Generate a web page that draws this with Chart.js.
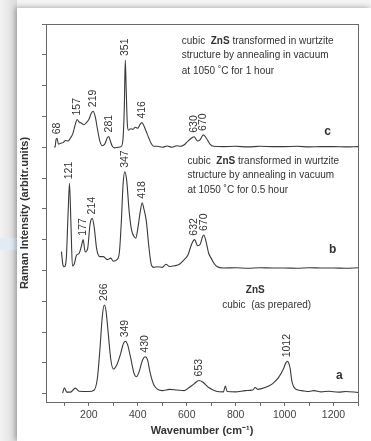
<!DOCTYPE html>
<html><head><meta charset="utf-8">
<script src="https://cdn.jsdelivr.net/npm/chart.js@4"></script>
<style>
html,body{margin:0;padding:0;width:371px;height:441px;overflow:hidden;background:#f4f4f4;}
#strip{position:absolute;left:0;top:0;width:17px;height:441px;background:linear-gradient(to right,#f3f3f3,#dadada);}
#band{position:absolute;left:0;top:238px;width:17px;height:12px;background:#e2eaf3;}
#panel{position:absolute;left:17px;top:8px;right:0;bottom:0;background:#fff;box-shadow:-2px -1px 5px rgba(0,0,0,0.28);}
#wrap{position:absolute;left:0;top:0;width:371px;height:441px;}
</style></head>
<body>
<div id="strip"></div><div id="band"></div><div id="panel"></div>
<div id="wrap"><canvas id="c" width="371" height="441"></canvas></div>
<script>
// Wavenumbers (cm-1) and intensities (arbitrary units, stacked offsets as in the figure)
const xA = [93,100,110,125,145,160,200,220,235,245,255,263,270,280,290,300,315,330,340,349,358,370,385,395,405,420,430,440,450,465,480,500,530,560,590,610,630,650,665,690,720,750,758,765,800,840,870,880,890,920,950,975,995,1005,1012,1022,1030,1045,1070,1100,1120,1150,1180,1220,1250,1300];
const yA = [0.02,0.19,0.05,0.05,0.18,0.08,0.07,0.1,0.5,1.4,2.5,2.88,2.7,1.9,1.1,0.8,0.95,1.3,1.6,1.7,1.6,1.2,0.65,0.55,0.7,1.1,1.2,1.1,0.7,0.3,0.15,0.1,0.14,0.12,0.1,0.2,0.32,0.43,0.38,0.2,0.08,0.06,0.25,0.07,0.06,0.1,0.12,0.2,0.14,0.2,0.32,0.52,0.8,1.0,1.05,0.85,0.4,0.15,0.1,0.07,0.1,0.06,0.08,0.05,0.07,0.04];

const xB = [88,95,100,108,115,121,127,133,140,150,160,170,177,185,195,205,214,222,232,245,260,275,290,300,315,325,333,340,347,355,365,375,385,392,400,410,418,425,435,445,455,465,480,500,515,530,550,570,590,605,620,632,645,655,665,670,680,690,700,710,725,750,800,850,900,950,1000,1050,1100,1150,1200,1250,1300];
const yB = [4.61,4.15,4.12,4.4,5.8,6.83,5.5,4.15,4.2,4.5,4.55,4.8,5.0,4.6,4.7,5.5,5.69,5.4,4.7,4.45,4.45,4.35,4.4,4.3,4.35,4.6,5.6,6.8,7.2,6.9,5.9,5.3,5.1,5.05,5.35,5.9,6.2,6.0,5.6,4.8,4.2,4.1,4.12,4.1,4.2,4.13,4.15,4.2,4.35,4.5,4.85,5.0,4.8,4.85,5.1,5.15,4.9,4.55,4.4,4.25,4.12,4.08,4.09,4.07,4.09,4.08,4.08,4.07,4.09,4.08,4.08,4.07,4.09];

const xC = [58,62,66,70,76,85,95,105,115,125,135,145,152,160,170,180,190,200,210,218,226,235,245,255,265,275,281,288,295,305,320,332,340,345,349,353,357,362,370,380,390,400,410,417,425,435,445,455,465,480,500,520,540,560,575,590,605,620,630,645,655,668,680,695,710,750,800,850,900,950,1000,1050,1100,1150,1200,1250,1300];
const yC = [8.02,8.0,8.25,8.29,8.1,8.13,8.15,8.22,8.2,8.3,8.45,8.75,8.9,8.82,8.78,8.73,8.8,8.9,9.1,9.17,9.0,8.6,8.2,8.05,8.1,8.3,8.35,8.2,8.05,7.98,8.0,8.02,8.3,9.3,10.83,9.8,8.8,8.55,8.6,8.58,8.65,8.62,8.75,8.8,8.7,8.5,8.3,8.12,8.03,8.03,8.0,8.04,8.0,8.05,8.03,8.08,8.2,8.3,8.34,8.2,8.25,8.4,8.3,8.1,8.03,8.02,8.03,8.01,8.03,8.02,8.02,8.03,8.01,8.02,8.02,8.01,8.02];

// Peak labels: wavenumber where each label sits, and its text
const peaksA = [263, 349, 430, 652, 1012];
const peakTextA = ['266','349','430','653','1012'];
const peaksB = [121, 177, 214, 347, 418, 632, 670];
const peakTextB = ['121','177','214','347','418','632','670'];
const peaksC = [69, 152, 218, 281, 349, 417, 630, 668];
const peakTextC = ['68','157','219','281','351','416','630','670'];

const xTickLabels = [200, 400, 600, 800, 1000, 1200];

const toPts = (xs, ys) => xs.map((x, i) => ({x, y: ys[i]}));
const lineColor = '#3a3a3a';
const ds = (xs, ys) => ({data: toPts(xs, ys), borderColor: lineColor, borderWidth: 1.1, pointRadius: 0, tension: 0.35, cubicInterpolationMode: 'monotone', fill: false});

const FONT = '"Liberation Sans", Arial, sans-serif';
const TXT = '#333';

function maxNear(xs, ys, w) {
  let m = -Infinity;
  xs.forEach((x, i) => { if (Math.abs(x - w) <= 6) m = Math.max(m, ys[i]); });
  return m;
}

const annot = {
  id: 'annot',
  afterDatasetsDraw(chart) {
    const {ctx, chartArea: a, scales: {x, y}} = chart;
    ctx.save();
    // frame
    ctx.strokeStyle = '#6a6a6a'; ctx.lineWidth = 1;
    ctx.strokeRect(Math.round(a.left) + 0.5, Math.round(a.top) + 0.5, Math.round(a.right - a.left), Math.round(a.bottom - a.top));
    // peak labels
    ctx.fillStyle = TXT;
    ctx.font = '10.5px ' + FONT;
    ctx.textBaseline = 'middle';
    ctx.textAlign = 'left';
    const doPeaks = (xs, ys, pk, tx) => pk.forEach((w, i) => {
      const px = x.getPixelForValue(w);
      const py = y.getPixelForValue(maxNear(xs, ys, w)) - 4;
      ctx.save(); ctx.translate(px, py); ctx.rotate(-Math.PI / 2);
      ctx.fillText(tx[i], 0, 0); ctx.restore();
    });
    doPeaks(xA, yA, peaksA, peakTextA);
    doPeaks(xB, yB, peaksB, peakTextB);
    doPeaks(xC, yC, peaksC, peakTextC);
    // descriptive text
    const rich = (parts, wx, wy) => {
      let px = x.getPixelForValue(wx); const py = y.getPixelForValue(wy);
      parts.forEach(([t, b]) => {
        ctx.font = (b ? 'bold ' : '') + '10px ' + FONT;
        ctx.fillText(t, px, py); px += ctx.measureText(t).width;
      });
    };
    ctx.textAlign = 'left';
    const block = (wx, ys, last) => {
      rich([['cubic  ', false], ['ZnS', true], [' transformed in wurtzite', false]], wx, ys[0]);
      rich([['structure by annealing in vacuum', false]], wx, ys[1]);
      rich([[last, false]], wx, ys[2]);
    };
    block(580, [11.43, 10.99, 10.48], 'at 1050 \u02DAC for 1 hour');
    block(603, [7.53, 7.1, 6.59], 'at 1050 \u02DAC for 0.5 hour');
    ctx.textAlign = 'center';
    ctx.font = 'bold 10px ' + FONT;
    ctx.fillText('ZnS', x.getPixelForValue(880), y.getPixelForValue(3.37));
    ctx.font = '10px ' + FONT;
    ctx.fillText('cubic  (as prepared)', x.getPixelForValue(927), y.getPixelForValue(2.88));
    ctx.font = 'bold 12px ' + FONT;
    ctx.fillText('c', x.getPixelForValue(1176), y.getPixelForValue(8.5));
    ctx.fillText('b', x.getPixelForValue(1196), y.getPixelForValue(4.67));
    ctx.fillText('a', x.getPixelForValue(1224), y.getPixelForValue(0.6));
    ctx.restore();
  }
};

new Chart(document.getElementById('c'), {
  type: 'line',
  data: {datasets: [ds(xA, yA), ds(xB, yB), ds(xC, yC)]},
  options: {
    responsive: false, animation: false,
    layout: {padding: {left: 0, top: 24, right: 13, bottom: 0}},
    plugins: {legend: {display: false}, tooltip: {enabled: false}},
    scales: {
      x: {
        type: 'linear', min: 25, max: 1300,
        afterFit: s => { s.height = 39; },
        border: {display: true, color: '#6a6a6a', width: 1},
        grid: {drawOnChartArea: false, drawTicks: true, tickLength: 4, tickColor: '#6a6a6a'},
        ticks: {stepSize: 100, includeBounds: false, autoSkip: false, maxRotation: 0, padding: 3,
          color: '#444', font: {family: FONT, size: 10.5},
          callback: v => xTickLabels.includes(v) ? String(v) : ''},
        title: {display: true, text: 'Wavenumber (cm\u207B\u00B9)', color: '#333',
          font: {family: FONT, size: 11, weight: 'bold'}, padding: {top: 0, bottom: 3}}
      },
      y: {
        type: 'linear', min: -0.27, max: 12,
        afterFit: s => { s.width = 46; },
        border: {display: true, color: '#6a6a6a', width: 1},
        grid: {drawOnChartArea: false, drawTicks: true, tickLength: 4, tickColor: '#6a6a6a'},
        ticks: {stepSize: 1, includeBounds: false, callback: () => '', padding: 0},
        title: {display: true, text: 'Raman Intensity (arbitr.units)', color: '#333',
          font: {family: FONT, size: 11, weight: 'bold'}, padding: {top: 18, bottom: 0}}
      }
    }
  },
  plugins: [annot]
});
</script>
</body></html>
